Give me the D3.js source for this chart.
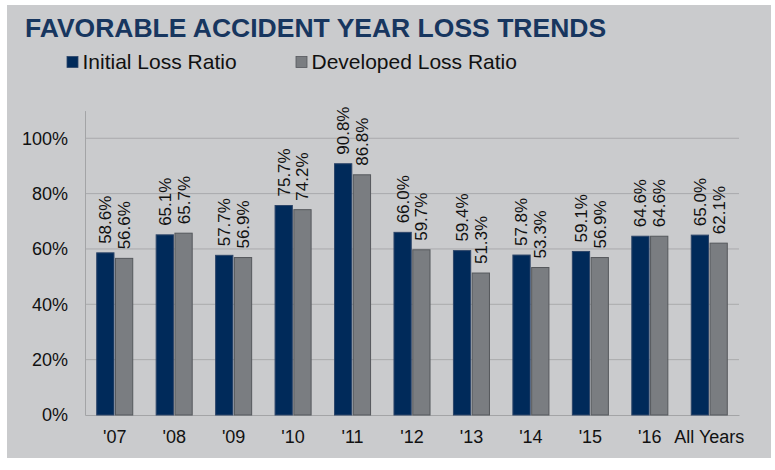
<!DOCTYPE html>
<html>
<head>
<meta charset="utf-8">
<script src="https://cdn.jsdelivr.net/npm/d3@7"></script>
<style>
  body { margin: 0; background: #ffffff; }
  svg { display: block; font-family: "Liberation Sans", Arial, sans-serif; }
</style>
</head>
<body>
<script>
// chart data
var categories = ["'07", "'08", "'09", "'10", "'11", "'12", "'13", "'14", "'15", "'16", "All Years"];
var initialLoss = [58.6, 65.1, 57.7, 75.7, 90.8, 66.0, 59.4, 57.8, 59.1, 64.6, 65.0];
var developedLoss = [56.6, 65.7, 56.9, 74.2, 86.8, 59.7, 51.3, 53.3, 56.9, 64.6, 62.1];
var seriesNames = ["Initial Loss Ratio", "Developed Loss Ratio"];
var yTicks = [0, 20, 40, 60, 80, 100];

var width = 775, height = 470;
var colors = ["#002a5a", "#7a7d81"];
var strokes = ["#2c4569", "#55585c"];

var svg = d3.select("body").append("svg")
    .attr("width", width)
    .attr("height", height);

// grey panel
svg.append("rect")
    .attr("x", 7).attr("y", 5)
    .attr("width", 764).attr("height", 453)
    .attr("fill", "#cacbcd");

// title
svg.append("text")
    .attr("x", 25).attr("y", 37)
    .attr("font-size", "26.5px")
    .attr("font-weight", "bold")
    .attr("fill", "#17365f")
    .text("FAVORABLE ACCIDENT YEAR LOSS TRENDS");

// legend
var legendX = [67, 296];
seriesNames.forEach(function(name, i) {
    svg.append("rect")
        .attr("x", legendX[i]).attr("y", 56.5)
        .attr("width", 11).attr("height", 11)
        .attr("fill", colors[i])
        .attr("stroke", strokes[i]).attr("stroke-width", 0.8);
    svg.append("text")
        .attr("x", legendX[i] + 15.5).attr("y", 68.5)
        .attr("font-size", "21px")
        .attr("fill", "#111")
        .text(name);
});

// scales
var x = d3.scaleBand()
    .domain(categories)
    .range([85, 739])
    .paddingInner(0.394)
    .paddingOuter(0.197);

var xs = d3.scaleBand()
    .domain([0, 1])
    .range([0, x.bandwidth()])
    .paddingInner(0.08);

var y = d3.scaleLinear()
    .domain([0, 110])
    .range([415, 110.6]);

// gridlines
svg.selectAll(".grid")
    .data(yTicks.slice(1))
    .enter().append("line")
    .attr("x1", 85).attr("x2", 739)
    .attr("y1", function(d){return y(d)})
    .attr("y2", function(d){return y(d)})
    .attr("stroke", "#a9aaac")
    .attr("stroke-width", 1);

// y axis
var yAxis = svg.append("g")
    .attr("transform", "translate(85,0)")
    .call(d3.axisLeft(y).tickValues(yTicks).tickSize(0).tickPadding(17)
        .tickFormat(function(d){return d + "%"}));
yAxis.select(".domain").attr("stroke", "#a3a4a6");
yAxis.selectAll("text")
    .attr("font-size", "18px")
    .attr("font-family", "Liberation Sans, Arial, sans-serif")
    .attr("fill", "#111");

// x axis
var xAxis = svg.append("g")
    .attr("transform", "translate(0,415)")
    .call(d3.axisBottom(x).tickSize(0).tickPadding(15));
xAxis.select(".domain").attr("stroke", "#a3a4a6");
xAxis.selectAll("text")
    .attr("font-size", "18px")
    .attr("font-family", "Liberation Sans, Arial, sans-serif")
    .attr("fill", "#111");

// bars
var rows = categories.map(function(c, i) {
    return {cat: c, vals: [initialLoss[i], developedLoss[i]]};
});

var groups = svg.selectAll(".grp")
    .data(rows)
    .enter().append("g")
    .attr("transform", function(d){return "translate(" + x(d.cat) + ",0)"});

groups.selectAll("rect")
    .data(function(d){return d.vals.map(function(v, k){return {k: k, v: v}})})
    .enter().append("rect")
    .attr("x", function(d){return xs(d.k)})
    .attr("y", function(d){return y(d.v)})
    .attr("width", xs.bandwidth())
    .attr("height", function(d){return y(0) - y(d.v)})
    .attr("fill", function(d){return colors[d.k]})
    .attr("stroke", function(d){return strokes[d.k]})
    .attr("stroke-width", 1);

// rotated value labels
groups.selectAll(".lbl")
    .data(function(d){return d.vals.map(function(v, k){return {k: k, v: v}})})
    .enter().append("text")
    .attr("transform", function(d){
        return "translate(" + (xs(d.k) + xs.bandwidth() / 2) + "," + (y(d.v) - 9) + ") rotate(-90)";
    })
    .attr("dy", "0.35em")
    .attr("text-anchor", "start")
    .attr("font-size", "17px")
    .attr("fill", "#111")
    .text(function(d){return d.v.toFixed(1) + "%"});
</script>
</body>
</html>
